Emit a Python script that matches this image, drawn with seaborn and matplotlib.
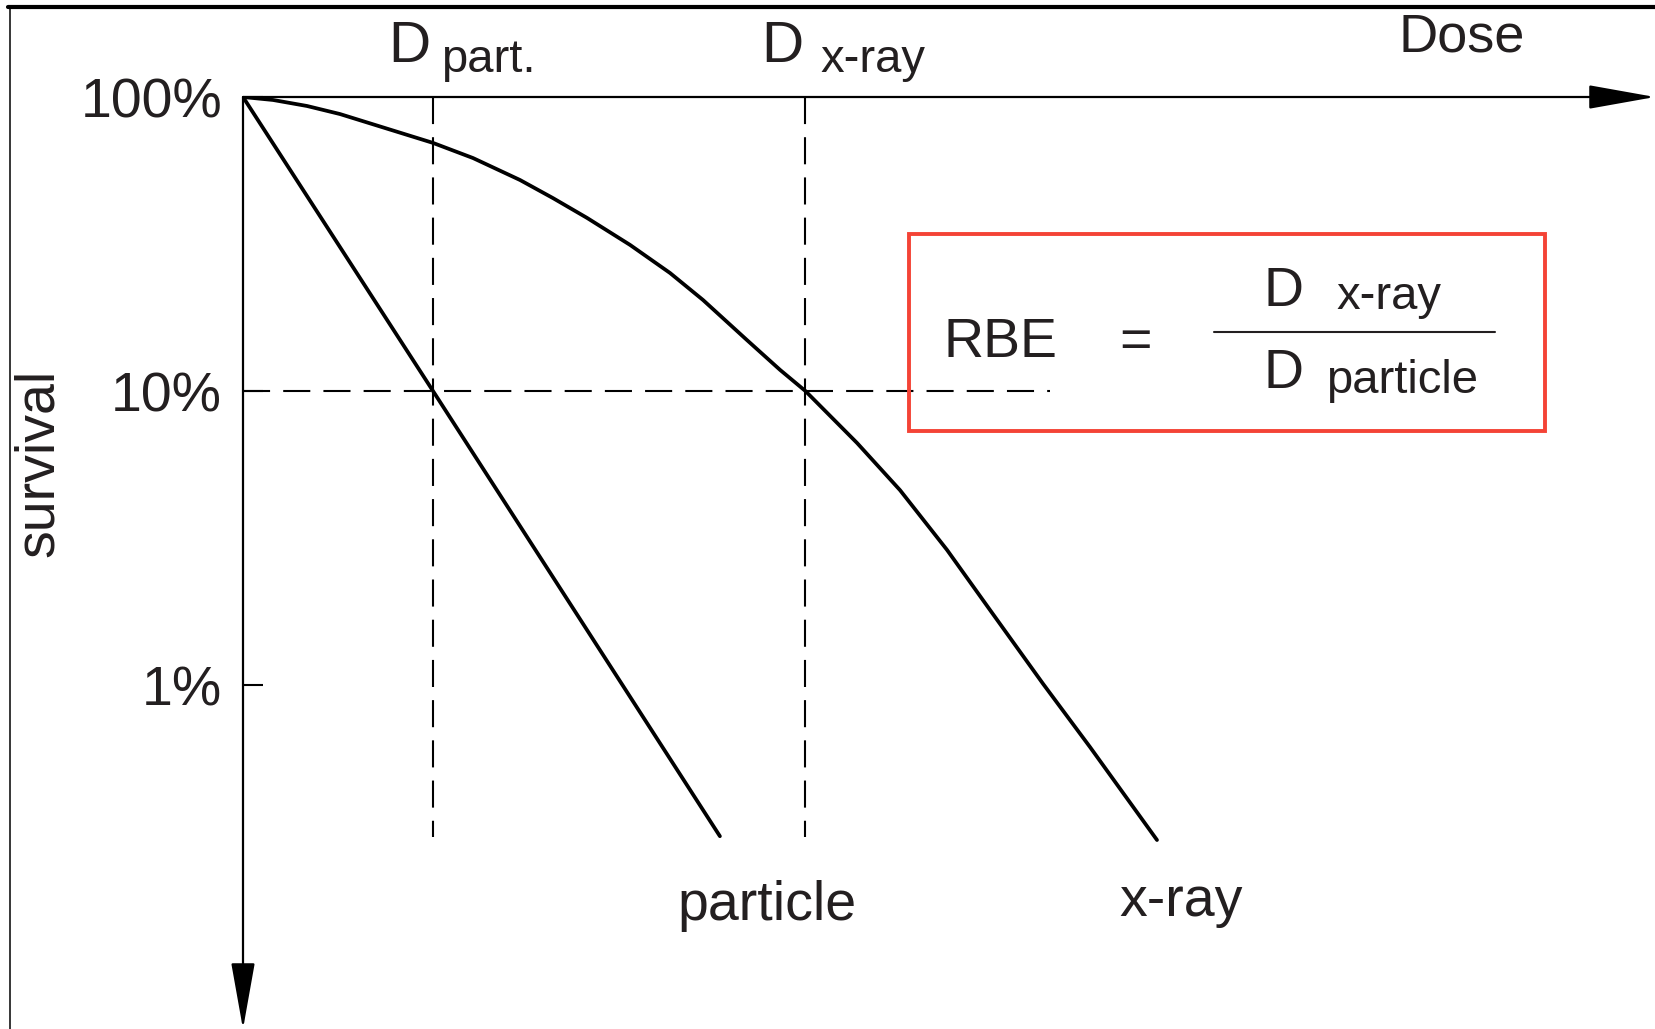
import matplotlib
matplotlib.use("Agg")
import matplotlib.pyplot as plt
import seaborn as sns
from matplotlib.lines import Line2D
from matplotlib.patches import Rectangle
from matplotlib.ticker import NullLocator

# Survival curves (dose in Gy, schematic; survival in %)
particle_dose = [0.0, 2.0, 5.02]
particle_survival = [100.0, 10.0, 0.306]

xray_dose = [0.0, 0.316, 0.674, 1.021, 2.0, 2.421, 2.916, 3.263, 3.621, 4.074,
             4.495, 4.842, 5.305, 5.653, 5.92, 6.463, 6.916, 7.411, 7.863,
             8.421, 8.916, 9.621]
xray_survival = [100.0, 97.7, 93.2, 87.5, 69.8, 62.0, 52.2, 45.3, 38.8, 31.4,
                 25.2, 20.4, 14.9, 11.8, 10.0, 6.66, 4.60, 2.88, 1.80,
                 1.01, 0.615, 0.297]

d_part = 2.0          # dose giving 10% survival with particles
d_xray = 5.92         # dose giving 10% survival with x-rays
ref_survival = 10.0   # reference survival level
dash_bottom = 0.304   # where the vertical guide lines stop
dash_right = 8.49     # where the horizontal guide line stops

ytick_values = [100, 10, 1]
ytick_labels = ["100%", "10%", "1%"]

W, H = 1655, 1029
TEXT = "#231f20"
RED = "#f44336"

sns.set_theme(style="white")
plt.rcParams["font.family"] = ["Liberation Sans", "DejaVu Sans"]

fig = plt.figure(figsize=(W / 100, H / 100), dpi=100)
fig.patch.set_facecolor("white")

# axes: origin sits at pixel (243, 97); 95 px per Gy, 294 px per decade
ax = fig.add_axes([243 / W, 0, (W - 243) / W, (H - 97) / H])
ax.patch.set_visible(False)
ax.set_yscale("log")
ax.set_xlim(0, (W - 243) / 95)
ax.set_ylim(100 * 10 ** (-(H - 97) / 294), 100)

sns.lineplot(x=xray_dose, y=xray_survival, ax=ax, color="black", lw=2.7,
             sort=False, estimator=None)
sns.lineplot(x=particle_dose, y=particle_survival, ax=ax, color="black", lw=2.7,
             sort=False, estimator=None)

dash = (0, (13, 6.3))
for d in [d_part, d_xray]:
    ax.plot([d, d], [100, dash_bottom], color="black", lw=1.5, linestyle=dash)
ax.plot([0, dash_right], [ref_survival, ref_survival], color="black", lw=1.5,
        linestyle=dash)

sns.despine(ax=ax, left=True, bottom=True, top=True, right=True)
ax.set_xticks([])
ax.set_yticks(ytick_values, ytick_labels)
ax.yaxis.set_minor_locator(NullLocator())
ax.tick_params(axis="y", left=True, direction="in", length=14.4, width=1.5,
               pad=15, labelsize=40, color="black", labelcolor=TEXT)
ax.grid(False)

# axis arrows
arrow = dict(arrowstyle="-|>,head_length=4.2,head_width=0.75", mutation_scale=10,
             lw=1.6, color="black", shrinkA=0, shrinkB=0)
ax.annotate("", xy=(1, 1), xytext=(0, 1), xycoords="axes fraction",
            arrowprops=arrow, annotation_clip=False)
ax.annotate("", xy=(0, 0), xytext=(0, 1), xycoords="axes fraction",
            arrowprops=arrow, annotation_clip=False)


def put(x, y, s, size, **kw):
    kw.setdefault("ha", "left")
    kw.setdefault("va", "baseline")
    fig.text(x / W, 1 - y / H, s, fontsize=size, color=TEXT, **kw)


put(39, 463, "survival", 40, ha="center", va="center", rotation=90)
put(1462, 52, "Dose", 39, ha="center")
put(388, 62, "D", 42)
put(441, 72, "part.", 34)
put(761, 62, "D", 42)
put(820, 72, "x-ray", 34)
put(677, 920, "particle", 40)
put(1119, 916, "x-ray", 40)

# RBE formula box
put(944, 357, "RBE", 40)
put(1135, 357, "=", 40, ha="center")
put(1263, 306, "D", 40)
put(1336, 309, "x-ray", 34)
put(1263, 388, "D", 40)
put(1326, 393, "particle", 34)
fig.add_artist(Line2D([1214 / W, 1495 / W], [1 - 332 / H, 1 - 332 / H],
                      transform=fig.transFigure, color=TEXT, lw=1.5))
fig.add_artist(Rectangle((909 / W, 1 - 431 / H), (1545 - 909) / W, (431 - 234) / H,
                         transform=fig.transFigure, fill=False, ec=RED, lw=2.8))

# frame remnants at top and left
fig.add_artist(Line2D([8 / W, 1], [1 - 7 / H, 1 - 7 / H], transform=fig.transFigure,
                      color="black", lw=3))
fig.add_artist(Line2D([10 / W, 10 / W], [0, 1 - 7 / H], transform=fig.transFigure,
                      color="black", lw=1.1))

fig.savefig("out.png", dpi=100)
